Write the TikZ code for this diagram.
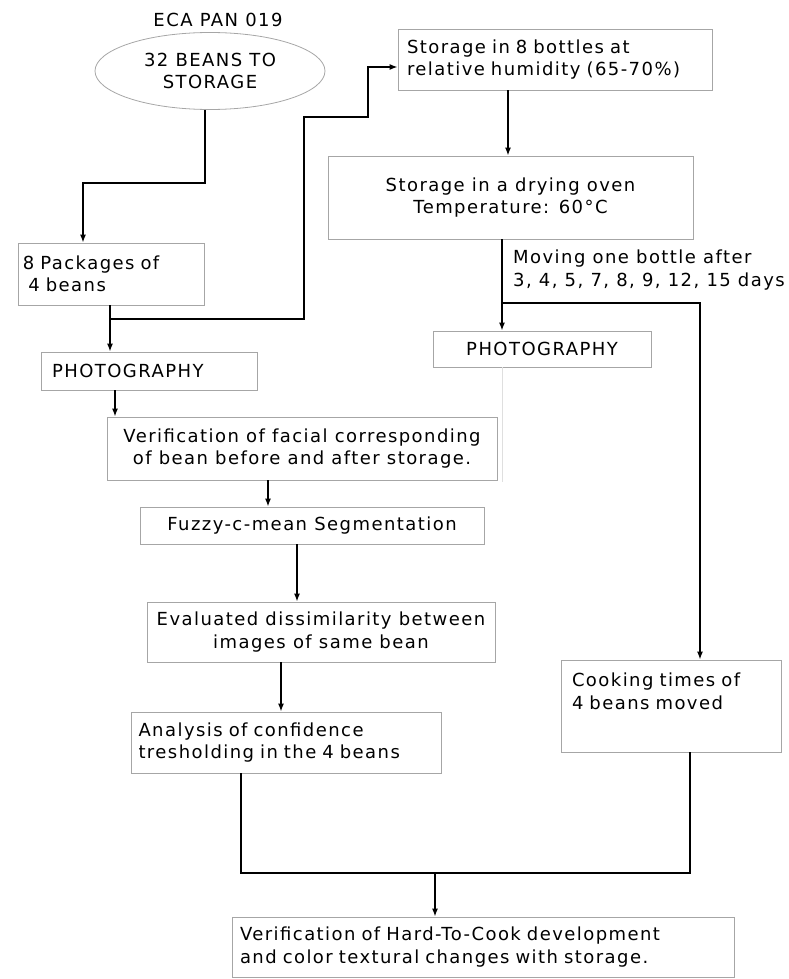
\documentclass[tikz,border=0pt]{standalone}
\usepackage{fontspec}
\setmainfont[LetterSpace=8]{DejaVu Sans}
\usetikzlibrary{shapes.geometric,arrows.meta}

\begin{document}
\begin{tikzpicture}[x=1pt,y=-1pt,
  every node/.style={font=\fontsize{18}{22.5}\selectfont},
  box/.style={draw=gray!70,line width=0.8pt,inner ysep=2pt,align=center},
  lbox/.style={box,align=left},
  flow/.style={line width=1.4pt},
  arr/.style={flow,-{Latex[length=8pt,width=6pt]}}]
  \useasboundingbox (0,0) rectangle (788,979);
  % beans and packages
  \node (title) at (218,20) {ECA PAN 019};
  \node[ellipse,draw=gray!70,line width=0.8pt,minimum width=230pt,minimum height=77pt,align=center] (beans) at (210,71) {32 BEANS TO\\STORAGE};
  \node[lbox,text width=176pt,inner xsep=5pt,minimum height=62pt] (pack) at (111,274) {8 Packages of\\\hspace{0.3em}4 beans};
  \node[lbox,text width=194pt,inner xsep=11pt,minimum height=38pt] (photoA) at (149,371) {PHOTOGRAPHY};
  % storage branch
  \node[lbox,text width=296pt,inner xsep=9pt,minimum height=61pt] (store) at (555,59.5) {Storage in 8 bottles at\\relative humidity (65-70\%)};
  \node[box,minimum width=365pt,minimum height=83pt] (oven) at (510.5,197.5) {Storage in a drying oven\\Temperature: 60\textdegree C};
  \node[anchor=west,align=left,inner xsep=5pt] (moving) at (508,270) {Moving one bottle after\\3, 4, 5, 7, 8, 9, 12, 15 days};
  \node[box,minimum width=218pt,minimum height=36pt] (photoB) at (542,349) {PHOTOGRAPHY};
  \node[lbox,text width=198pt,inner xsep=11pt,minimum height=92pt] (cook) at (671,706) {Cooking times of\\4 beans moved\\\strut};
  % image analysis
  \node[box,minimum width=390pt,minimum height=63pt] (verif) at (302,448.5) {Verification of facial corresponding\\of bean before and after storage.};
  \node[box,minimum width=344pt,minimum height=37pt] (fuzzy) at (312,525.5) {Fuzzy-c-mean Segmentation};
  \node[box,minimum width=348pt,minimum height=60pt] (eval) at (321,632) {Evaluated dissimilarity between\\images of same bean};
  \node[lbox,text width=296pt,inner xsep=7pt,minimum height=61pt] (anal) at (286.5,742.5) {Analysis of confidence\\tresholding in the 4 beans};
  \node[lbox,text width=486pt,inner xsep=8pt,minimum height=60pt] (final) at (483,947) {Verification of Hard-To-Cook development\\and color textural changes with storage.};
  % joints
  \coordinate (j1) at (83,183);
  \coordinate (j2) at (110,319);
  \coordinate (s1) at (368,67);
  \coordinate (j3) at (502,303);
  \coordinate (j4) at (700,303);
  \coordinate (fade) at (502,482);
  \coordinate (j5) at (435,873);
  % connectors
  \draw[arr] ([xshift=-5pt]beans.south) |- (j1) -- (j1 |- pack.north);
  \draw[arr] (j2 |- pack.south) -- (j2 |- photoA.north);
  \draw[arr] (j2) -| (304,117) -| (s1) -- (s1 -| store.west);
  \draw[arr] ([xshift=-47pt]store.south) -- ([xshift=-47pt]store.south |- oven.north);
  \draw[arr] (j3 |- oven.south) -- (j3 |- photoB.north);
  \draw[arr] (j3) -- (j4) -- (j4 |- cook.north);
  \draw[gray!25,line width=1pt] (j3 |- photoB.south) -- (fade);
  \draw[arr] ([xshift=-34pt]photoA.south) -- ([xshift=-34pt]photoA.south |- verif.north);
  \draw[arr] ([xshift=-34pt]verif.south) -- ([xshift=-34pt]verif.south |- fuzzy.north);
  \draw[arr] ([xshift=-15pt]fuzzy.south) -- ([xshift=-15pt]fuzzy.south |- eval.north);
  \draw[arr] ([xshift=-40pt]eval.south) -- ([xshift=-40pt]eval.south |- anal.north);
  \draw[flow] ([xshift=-45.5pt]anal.south) |- (j5) -| ([xshift=19pt]cook.south);
  \draw[arr] (j5) -- (j5 |- final.north);
\end{tikzpicture}
\end{document}
